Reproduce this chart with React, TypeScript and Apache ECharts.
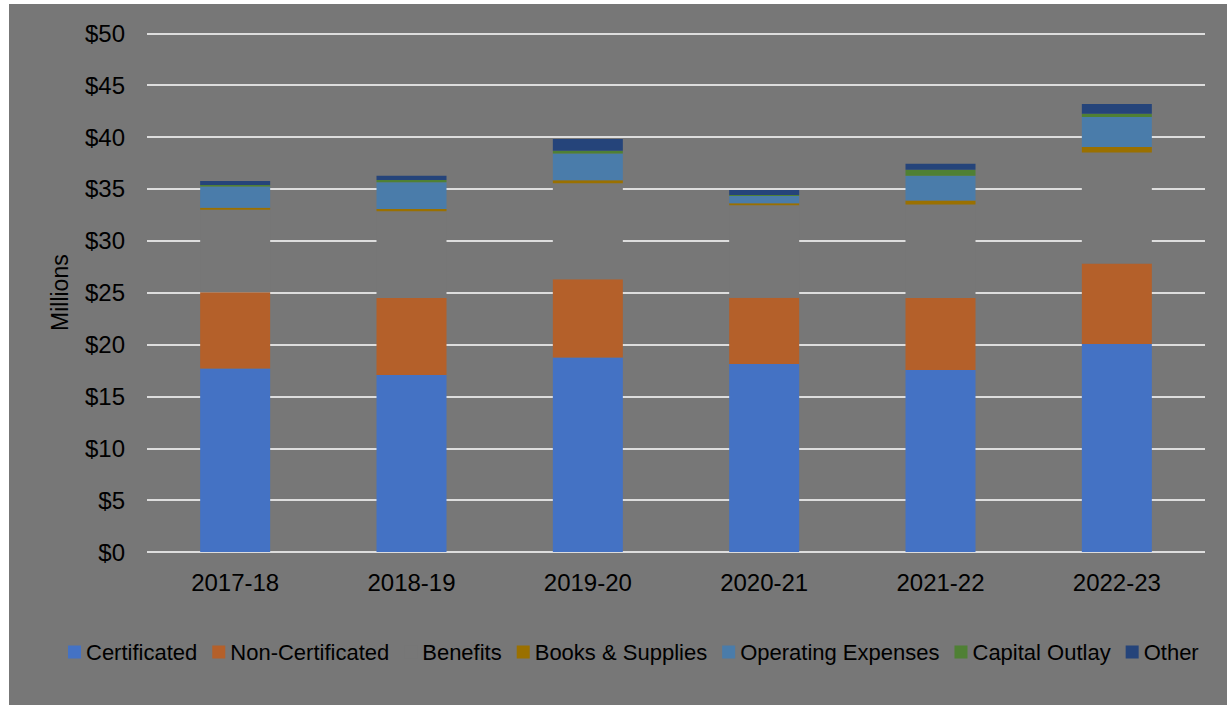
import React, { useEffect, useRef } from "react";
import * as echarts from "echarts";

const categories = ["2017-18", "2018-19", "2019-20", "2020-21", "2021-22", "2022-23"];
const certificated = [17.7, 17.07, 18.74, 18.13, 17.55, 20.06];
const nonCertificated = [7.33, 7.42, 7.56, 6.39, 6.94, 7.74];
const benefits = [7.97, 8.36, 9.25, 8.91, 9.0, 10.71];
const booksSupplies = [0.19, 0.22, 0.29, 0.19, 0.39, 0.52];
const operatingExpenses = [2.04, 2.57, 2.57, 0.7, 2.38, 2.89];
const capitalOutlay = [0.14, 0.22, 0.26, 0.1, 0.58, 0.32];
const other = [0.39, 0.41, 1.13, 0.48, 0.58, 0.94];

const BG = "#777777";
const FONT = "'Liberation Sans', Arial, sans-serif";

const seriesDefs = [
  { name: "Certificated", data: certificated, color: "#4472C4" },
  { name: "Non-Certificated", data: nonCertificated, color: "#B4602A" },
  { name: "Benefits", data: benefits, color: BG },
  { name: "Books & Supplies", data: booksSupplies, color: "#9A7000" },
  { name: "Operating Expenses", data: operatingExpenses, color: "#4A7CAA" },
  { name: "Capital Outlay", data: capitalOutlay, color: "#4F8034" },
  { name: "Other", data: other, color: "#25447A" },
];

export default function App() {
  const ref = useRef<HTMLDivElement>(null);
  useEffect(() => {
    if (!ref.current) return;
    const chart = echarts.init(ref.current, null, { renderer: "svg" });
    chart.setOption({
      animation: false,
      backgroundColor: BG,
      textStyle: { fontFamily: FONT },
      grid: { left: 138, right: 22, top: 29.3, bottom: 153 },
      legend: {
        left: 54,
        top: 632,
        itemWidth: 13,
        itemHeight: 13,
        itemGap: 15,
        icon: "rect",
        textStyle: { color: "#000", fontSize: 22, fontFamily: FONT },
        data: seriesDefs.map((s) => s.name),
      },
      xAxis: {
        type: "category",
        data: categories,
        axisLine: { show: false },
        axisTick: { show: false },
        axisLabel: { color: "#000", fontSize: 24, margin: 18, fontFamily: FONT },
      },
      yAxis: {
        type: "value",
        min: 0,
        max: 50,
        interval: 5,
        name: "Millions",
        nameLocation: "middle",
        nameRotate: 90,
        nameGap: 76,
        nameTextStyle: { color: "#000", fontSize: 23, fontFamily: FONT },
        axisLine: { show: false },
        axisTick: { show: false },
        axisLabel: {
          color: "#000",
          fontSize: 24,
          margin: 22,
          fontFamily: FONT,
          formatter: (v: number) => "$" + v,
        },
        splitLine: { lineStyle: { color: "#dddddd", width: 1.8 } },
      },
      series: seriesDefs.map((s) => ({
        name: s.name,
        type: "bar",
        stack: "total",
        barWidth: 70,
        data: s.data,
        itemStyle: { color: s.color },
      })),
    });
    return () => chart.dispose();
  }, []);
  return (
    <div
      ref={ref}
      style={{ position: "absolute", left: 9, top: 4, width: 1218, height: 701 }}
    />
  );
}
